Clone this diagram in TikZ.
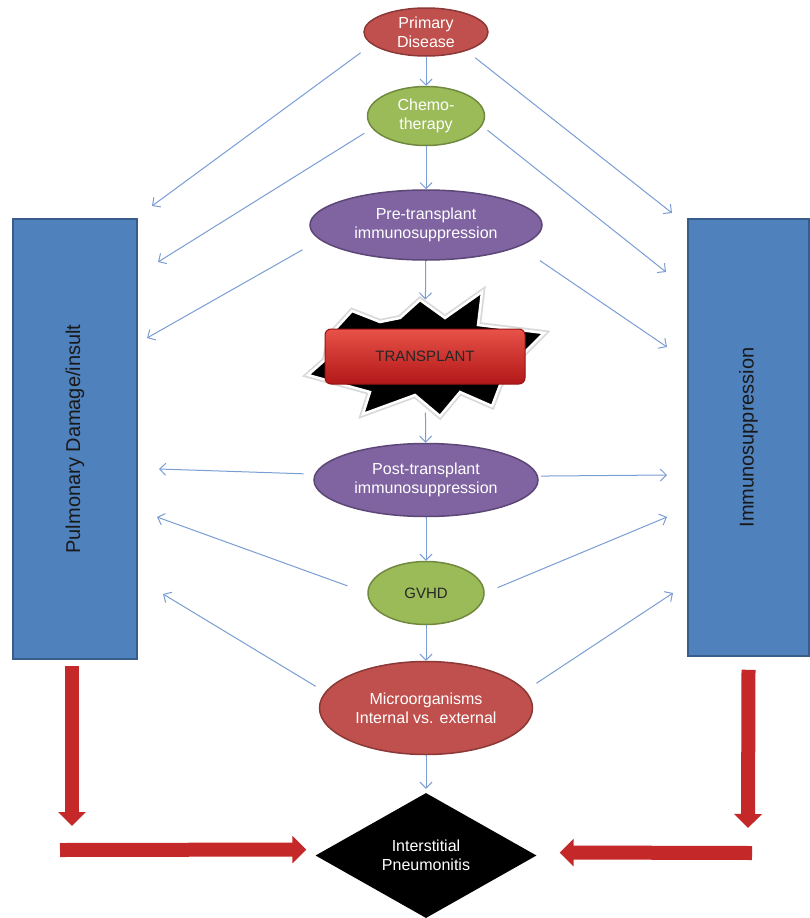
\documentclass[tikz,border=0pt]{standalone}
\usepackage{fontspec}
\setmainfont{Liberation Sans}
\usetikzlibrary{shapes.geometric,arrows.meta}

\definecolor{pdred}{RGB}{192,80,77}
\definecolor{pdredline}{RGB}{140,56,54}
\definecolor{chgreen}{RGB}{155,187,89}
\definecolor{chgreenline}{RGB}{113,137,63}
\definecolor{impurple}{RGB}{128,100,162}
\definecolor{impurpleline}{RGB}{92,71,118}
\definecolor{boxblue}{RGB}{79,129,189}
\definecolor{boxblueline}{RGB}{56,93,138}
\definecolor{linkblue}{RGB}{122,158,212}
\definecolor{blockred}{RGB}{196,40,40}

\tikzset{
  oval/.style={ellipse, line width=1.5pt, inner sep=0pt, align=center,
    text=white, font=\fontsize{16}{19}\selectfont},
  redoval/.style={oval, draw=pdredline, fill=pdred},
  greenoval/.style={oval, draw=chgreenline, fill=chgreen},
  purpleoval/.style={oval, draw=impurpleline, fill=impurple},
  sidebox/.style={rectangle, draw=boxblueline, fill=boxblue, line width=1.5pt,
    rotate=90, inner sep=0pt, text=black!90, font=\fontsize{20}{24}\selectfont},
  link/.style={draw=linkblue, line width=1pt, -{Straight Barb[length=6pt,width=12pt]}},
  blockarrow/.style={draw=blockred, line width=14pt, -{Triangle[length=14pt,width=27pt]}},
  starburst/.style={fill=black, draw=white, line width=2.5pt, line join=miter}
}

\begin{document}
\begin{tikzpicture}[x=1pt,y=-1pt]
\fill[white] (0,0) rectangle (809,918);
\useasboundingbox (0,0) rectangle (809,918);

% burst behind the transplant box
\draw[gray!30, line width=6pt, line join=miter] (400,318) -- (420,300) -- (445,318) -- (482,292) -- (478,325) -- (544,333) -- (525,352) -- (500,385) -- (492,406) -- (460,392) -- (440,416) -- (415,395) -- (363,414) -- (370,392) -- (308,375) -- (325,360) -- (330,335) -- (352,311) -- (380,322) -- cycle;
\draw[starburst] (400,318) -- (420,300) -- (445,318) -- (482,292) -- (478,325) -- (544,333) -- (525,352) -- (500,385) -- (492,406) -- (460,392) -- (440,416) -- (415,395) -- (363,414) -- (370,392) -- (308,375) -- (325,360) -- (330,335) -- (352,311) -- (380,322) -- cycle;

% nodes
\node (pd) [redoval, minimum width=124, minimum height=48] at (426,32) {Primary\\Disease};
\node (ch) [greenoval, minimum width=117, minimum height=59] at (426,116) {Chemo-\\therapy};
\node (pre) [purpleoval, minimum width=232, minimum height=70] at (426,225) {Pre-transplant\\immunosuppression};
\node (tp) [rectangle, rounded corners=6pt, draw={rgb,255:red,150;green,20;blue,20}, line width=1pt,
  top color={rgb,255:red,232;green,82;blue,72}, bottom color={rgb,255:red,178;green,24;blue,24},
  minimum width=200, minimum height=55, font=\fontsize{15}{18}\selectfont, text=black!85] at (425,356.5) {TRANSPLANT};
\node (post) [purpleoval, minimum width=224, minimum height=73] at (426,480) {Post-transplant\\immunosuppression};
\node (gv) [greenoval, minimum width=116, minimum height=63, text=black!85, font=\fontsize{15}{18}\selectfont] at (426,593) {GVHD};
\node (mo) [redoval, minimum width=213, minimum height=93] at (426,708) {Microorganisms\\Internal vs. external};
\node (ip) [diamond, fill=black, inner sep=0pt, minimum width=221, minimum height=125, align=center,
  text=white, font=\fontsize{16}{19}\selectfont] at (426,855.5) {Interstitial\\Pneumonitis};

\node (pdam) [sidebox, minimum width=440, minimum height=124] at (75,439) {Pulmonary Damage/insult};
\node (isup) [sidebox, minimum width=437, minimum height=121] at (748.5,437.5) {Immunosuppression};

% free ends
\coordinate (l1) at (152,206);
\coordinate (l2) at (158,262);
\coordinate (l3) at (147,338);
\coordinate (l4) at (159,469);
\coordinate (l5) at (157,517);
\coordinate (l6) at (163,594);
\coordinate (r1) at (672,213);
\coordinate (r2) at (666,272);
\coordinate (r3) at (667,347);
\coordinate (r4) at (667,475);
\coordinate (r5) at (667,517);
\coordinate (r6) at (673,593);
\coordinate (pdam-tip) at (72,826);
\coordinate (pdam-tail) at (60,850);
\coordinate (isup-tip) at (748,828);
\coordinate (isup-tail) at (752,853);

% arrows
\draw[link] (pd) -- (ch);
\draw[link] (ch) -- (pre);
\draw[link, shorten >=29pt] (pre) -- (tp);
\draw[link, shorten <=28pt] (tp) -- (post);
\draw[link] (post) -- (gv);
\draw[link] (gv) -- (mo);
\draw[link, shorten >=4pt] (mo) -- (ip);

\draw[link, shorten <=14pt] (pd.193) -- (l1);
\draw[link, shorten <=11pt] (pd.335) -- (r1);
\draw[link, shorten <=9pt] (ch.193) -- (l2);
\draw[link, shorten <=7pt] (ch.350) -- (r2);
\draw[link, shorten <=20pt] (pre.188) -- (l3);
\draw[link, shorten <=25pt] (pre.347) -- (r3);
\draw[link, shorten <=11pt] (post.177) -- (l4);
\draw[link, shorten <=3pt] (post.2) -- (r4);
\draw[link, shorten <=21pt] (gv.180) -- (l5);
\draw[link, shorten <=14pt] (gv.0) -- (r5);
\draw[link, shorten <=11pt] (mo.171) -- (l6);
\draw[link, shorten <=13pt] (mo.10) -- (r6);

% block arrows
\draw[blockarrow] ([xshift=-3pt,yshift=-6pt]pdam.west) -- (pdam-tip);
\draw[blockarrow] (pdam-tail) -- ([xshift=-9pt,yshift=6pt]ip.west);
\draw[blockarrow] ([yshift=-13pt]isup.west) -- (isup-tip);
\draw[blockarrow] (isup-tail) -- ([xshift=23pt,yshift=3pt]ip.east);
\end{tikzpicture}
\end{document}
